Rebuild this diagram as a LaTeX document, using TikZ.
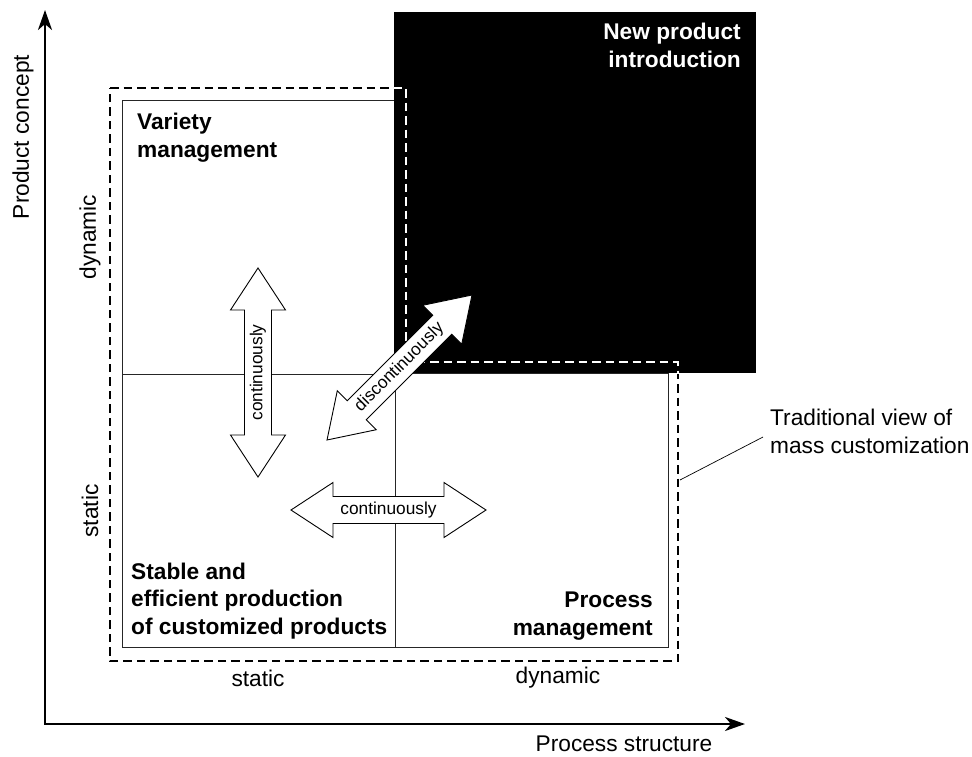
\documentclass[tikz,border=0pt]{standalone}
\usepackage{fontspec}
\setmainfont{Liberation Sans}
\usetikzlibrary{arrows.meta}

\newcommand{\lbl}{\fontsize{22.7}{27.3}\selectfont}
\newcommand{\smalllbl}{\fontsize{17.3}{20}\selectfont}

\tikzset{
  axis/.style={line width=2.6pt, {Stealth[length=20pt,width=14pt,inset=6pt]}-{Stealth[length=20pt,width=14pt,inset=6pt]}},
  gridline/.style={line width=0.9pt, draw=black!85},
  outline/.style={line width=1.8pt, dash pattern=on 8.5pt off 5pt},
  txt/.style={inner sep=0pt, font=\lbl},
  heading/.style={inner sep=0pt, font=\lbl\bfseries},
  arrowlabel/.style={inner sep=0pt, font=\smalllbl},
  pics/dblarrow/.style={code={
    \draw[line width=0.9pt, fill=white]
      (-#1,0) -- ({-#1+42},-27.5) -- ({-#1+42},-13.5) -- ({#1-42},-13.5)
      -- ({#1-42},-27.5) -- (#1,0) -- ({#1-42},27.5) -- ({#1-42},13.5)
      -- ({-#1+42},13.5) -- ({-#1+42},27.5) -- cycle;
    \node[arrowlabel, transform shape] (-label) {\tikzpictext};
  }}
}

\begin{document}
\begin{tikzpicture}[x=1pt, y=-1pt]
\useasboundingbox (0,0) rectangle (972,756);

% axes
\coordinate (ytip) at (45,10);
\coordinate (xtip) at (745,724);
\draw[axis] (ytip) |- (xtip);

% new product introduction field
\fill[black] (394,12) rectangle (756,373);

% quadrants
\draw[gridline] (394,100) -- (122,100) -- (122,647) -- (668,647) -- (668,373) -- (394,373);
\draw[gridline] (122,374) -- (394,374);
\draw[gridline] (395,374) -- (395,647);

% traditional view of mass customization
\draw[outline] (110,88) -- (406,88) -- (406,362) -- (678,362) -- (678,661) -- (110,661) -- cycle;
\begin{scope}
  \clip (394,12) rectangle (756,373);
  \draw[outline, white] (110,88) -- (406,88) -- (406,362) -- (678,362) -- (678,661) -- (110,661) -- cycle;
\end{scope}

% transition arrows
\pic[rotate=90, pic text=continuously] (vert) at (258,372.5) {dblarrow=104.5};
\pic[pic text=continuously] (horiz) at (388.5,510) {dblarrow=97.5};
\pic[rotate=45, pic text=discontinuously] (diag) at (399.5,367.5) {dblarrow=102.5};

% quadrant headings (anchored at the baseline of their last line)
\node[heading, anchor=base west, align=left] (variety) at (137,157) {Variety\\management};
\node[heading, anchor=base east, align=right, text=white] (npi) at (741,67) {New product\\introduction};
\node[heading, anchor=base west, align=left] (stable) at (131,634) {Stable and\\efficient production\\of customized products};
\node[heading, anchor=base east, align=right] (procmgmt) at (653,635) {Process\\management};

% axis labels
\node[txt, rotate=90] (ylabel) at (23,137) {Product concept};
\node[txt, rotate=90] (ydyn) at (90,237) {dynamic};
\node[txt, rotate=90] (ystat) at (90,511) {static};
\node[txt] (xstat) at (258,678) {static};
\node[txt] (xdyn) at (558,678) {dynamic};
\node[txt] (xlabel) at (624,744) {Process structure};

% annotation
\node[txt, anchor=base west, align=left] (trad) at (770,453) {Traditional view of\\mass customization};
\coordinate (lead) at (680,480);
\coordinate (leadend) at (763,437);
\draw[line width=0.7pt] (lead) -- (leadend);
\end{tikzpicture}
\end{document}
